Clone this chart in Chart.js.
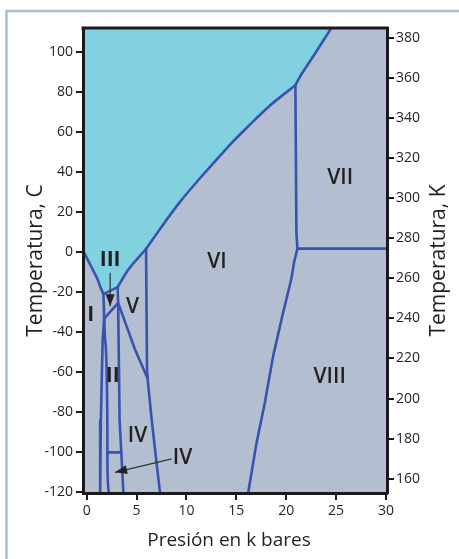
<!DOCTYPE html>
<html><head><meta charset="utf-8">
<script src="https://cdn.jsdelivr.net/npm/chart.js@4.4.1/dist/chart.umd.min.js"></script>
<style>html,body{margin:0;padding:0;background:#fff;}canvas{display:block;}</style>
</head><body>
<canvas id="c" width="459" height="559"></canvas>
<script>
// ---- tick labels / ranges ----
const xTicks = [0, 5, 10, 15, 20, 25, 30];
const yTicksC = [-120, -100, -80, -60, -40, -20, 0, 20, 40, 60, 80, 100];
const yTicksK = [160, 180, 200, 220, 240, 260, 280, 300, 320, 340, 360, 380];
const xRange = [-0.37, 30.1];
const yRange = [-120.3, 111.8];
const KELVIN = 273.15;

// ---- phase boundaries [P (kbar), T (°C)] ----
const liquidI = [[-0.38,0.9],[0.6,-8.75],[1.1,-13.75],[1.35,-17.25],[1.68,-21]];
const liquidIII = [[1.68,-21],[3.1,-17.5]];
const liquidV = [[3.1,-17.5],[4.18,-8.75],[5.95,1.5]];
const liquidVI = [[5.95,1.5],[7.35,11.5],[9.35,25],[11.35,36.8],[13.35,48],[14.35,53.5],[16.35,63.5],[18.35,73],[20.92,83.25]];
const liquidVII = [[20.92,83.25],[21.52,88.75],[23.02,100.1],[24.52,111.8]];
const lineI_III_II = [[1.68,-21],[1.75,-32.75],[1.6,-44],[1.42,-84],[1.35,-120.3]];
const lineII_right = [[1.75,-32.75],[1.85,-44],[2.07,-84],[2.08,-108],[2.25,-120.3]];
const lineII_III = [[1.8,-33],[3.15,-25.4]];
const lineIII_V = [[3.1,-17.5],[3.15,-25.4],[3.3,-84],[3.68,-120.3]];
const lineII_V = [[3.15,-25.4],[4.85,-48.75],[6.1,-63]];
const lineV_VI = [[5.95,1.5],[6.05,-61],[6.1,-63],[6.52,-84],[7.35,-120.3]];
const lineIV = [[2.08,-100],[3.45,-100]];
const lineVI_VII = [[20.92,83.25],[21.02,9.6],[21.12,1.7]];
const lineVII_VIII = [[21.12,1.7],[30.1,1.7]];
const lineVI_VIII = [[21.12,1.7],[20.8,-4.75],[20.5,-13.75],[19.68,-30.4],[18.68,-52.1],[17.85,-75.4],[17.02,-95.4],[16.18,-120.3]];

// ---- arrows ----
const arrowIII = [[2.35,-10.4],[2.35,-27.1]];
const arrowIV = [[8.52,-103.25],[2.85,-110]];

// ---- phase labels ----
const phaseLabels = ['III','I','V','II','IV','IV','VI','VII','VIII'];
const labelP = [2.35, 0.4, 4.6, 2.6, 5.1, 9.6, 13.05, 25.4, 24.35];
const labelT = [-4, -31.5, -27.5, -61.75, -92, -103, -5.25, 36.75, -62.25];
const labelBold = [true, true, false, true, false, false, false, false, false];

const ICE = '#b3bfd1', LIQ = '#82d1e0', LINE = '#3a52ae', TXT = '#231f20';
const FONT = "'Open Sans', 'Noto Sans', sans-serif";

const pts = a => a.map(p => ({x: p[0], y: p[1]}));
const boundary = (d, smooth) => ({data: pts(d), showLine: true, borderColor: LINE, borderWidth: 2.6, pointRadius: 0, fill: false, order: 1,
  tension: smooth ? 0.4 : 0, cubicInterpolationMode: smooth ? 'monotone' : 'default', borderJoinStyle: 'round', borderCapStyle: 'round'});
const arrowDs = d => ({data: pts(d), showLine: true, borderColor: '#333333', borderWidth: 1.2, pointRadius: 0, fill: false, tension: 0, order: 0});

const liquidAll = [].concat(liquidI, liquidIII.slice(1), liquidV.slice(1), liquidVI.slice(1), liquidVII.slice(1));

const datasets = [
  {data: pts(liquidAll), showLine: true, borderWidth: 0, borderColor: 'rgba(0,0,0,0)', pointRadius: 0, fill: 'end', backgroundColor: LIQ, tension: 0, order: 10},
  boundary(liquidI, true), boundary(liquidIII), boundary(liquidV, true), boundary(liquidVI, true), boundary(liquidVII),
  boundary(lineI_III_II), boundary(lineII_right, true), boundary(lineII_III), boundary(lineIII_V),
  boundary(lineII_V), boundary(lineV_VI), boundary(lineIV), boundary(lineVI_VII),
  boundary(lineVII_VIII), boundary(lineVI_VIII),
  arrowDs(arrowIII), arrowDs(arrowIV)
];

const decor = {
  id: 'decor',
  beforeDraw(chart) {
    const {ctx, chartArea: a} = chart;
    ctx.save();
    ctx.fillStyle = '#fff'; ctx.fillRect(0, 0, chart.width, chart.height);
    ctx.strokeStyle = '#a9bbd9'; ctx.lineWidth = 2.5;
    ctx.strokeRect(6.5, 11, 600, 700);
    ctx.fillStyle = ICE; ctx.fillRect(a.left, a.top, a.right - a.left, a.bottom - a.top);
    ctx.restore();
  },
  afterDraw(chart) {
    const {ctx, chartArea: a, scales: {x, y}} = chart;
    ctx.save();
    ctx.strokeStyle = '#1a1a1a'; ctx.lineWidth = 3;
    ctx.beginPath(); ctx.moveTo(a.left - 1.5, a.top); ctx.lineTo(a.right + 1.5, a.top); ctx.stroke();
    ctx.fillStyle = '#222';
    [arrowIII, arrowIV].forEach(ar => {
      const x0 = x.getPixelForValue(ar[0][0]), y0 = y.getPixelForValue(ar[0][1]);
      const x1 = x.getPixelForValue(ar[1][0]), y1 = y.getPixelForValue(ar[1][1]);
      const ang = Math.atan2(y1 - y0, x1 - x0), L = 12, W = 4.5;
      ctx.beginPath();
      ctx.moveTo(x1, y1);
      ctx.lineTo(x1 - L * Math.cos(ang) + W * Math.sin(ang), y1 - L * Math.sin(ang) - W * Math.cos(ang));
      ctx.lineTo(x1 - L * Math.cos(ang) - W * Math.sin(ang), y1 - L * Math.sin(ang) + W * Math.cos(ang));
      ctx.closePath(); ctx.fill();
    });
    ctx.fillStyle = TXT; ctx.textAlign = 'center'; ctx.textBaseline = 'middle';
    phaseLabels.forEach((t, i) => {
      ctx.font = (labelBold[i] ? '700 ' : '600 ') + '21px ' + FONT;
      ctx.fillText(t, x.getPixelForValue(labelP[i]), y.getPixelForValue(labelT[i]));
    });
    ctx.font = '19px ' + FONT; ctx.textBaseline = 'alphabetic';
    ctx.fillText('Presión en k bares', 229, 546);
    ctx.font = '21px ' + FONT; ctx.textBaseline = 'middle';
    ctx.translate(439, (a.top + a.bottom) / 2);
    ctx.rotate(-Math.PI / 2);
    ctx.fillText('Temperatura, K', 0, 0);
    ctx.restore();
  }
};

const tickFont = {family: FONT, size: 14};
new Chart(document.getElementById('c'), {
  type: 'scatter',
  data: {datasets},
  options: {
    responsive: false, animation: false, devicePixelRatio: 1,
    layout: {padding: {top: 28, left: 0, right: 0, bottom: 0}},
    plugins: {legend: {display: false}, tooltip: {enabled: false}},
    scales: {
      x: {
        type: 'linear', position: 'bottom', min: xRange[0], max: xRange[1],
        afterBuildTicks: s => { s.ticks = xTicks.map(v => ({value: v})); },
        afterFit: s => { s.height = 66; },
        grid: {drawOnChartArea: false, drawTicks: true, tickLength: 7, color: '#1a1a1a', lineWidth: 2},
        border: {display: true, color: '#1a1a1a', width: 3, z: 1},
        ticks: {font: tickFont, color: TXT, padding: 3, maxRotation: 0, callback: v => String(v)},
        title: {display: false}
      },
      y: {
        type: 'linear', position: 'left', min: yRange[0], max: yRange[1],
        afterBuildTicks: s => { s.ticks = yTicksC.map(v => ({value: v})); },
        afterFit: s => { s.width = 83; },
        grid: {drawOnChartArea: false, drawTicks: true, tickLength: 7, color: '#1a1a1a', lineWidth: 2},
        border: {display: true, color: '#1a1a1a', width: 3, z: 1},
        ticks: {font: tickFont, color: TXT, padding: 3, callback: v => String(v)},
        title: {display: true, text: 'Temperatura, C', font: {family: FONT, size: 21}, color: TXT, padding: {top: 23, bottom: 0}}
      },
      y2: {
        type: 'linear', position: 'right', min: yRange[0] + KELVIN, max: yRange[1] + KELVIN,
        afterBuildTicks: s => { s.ticks = yTicksK.map(v => ({value: v})); },
        afterFit: s => { s.width = 72; },
        grid: {drawOnChartArea: false, drawTicks: true, tickLength: 7, color: '#1a1a1a', lineWidth: 2},
        border: {display: true, color: '#1a1a1a', width: 3, z: 1},
        ticks: {font: tickFont, color: TXT, padding: 2, callback: v => String(v)},
        title: {display: false}
      }
    }
  },
  plugins: [decor]
});
</script>
</body></html>
